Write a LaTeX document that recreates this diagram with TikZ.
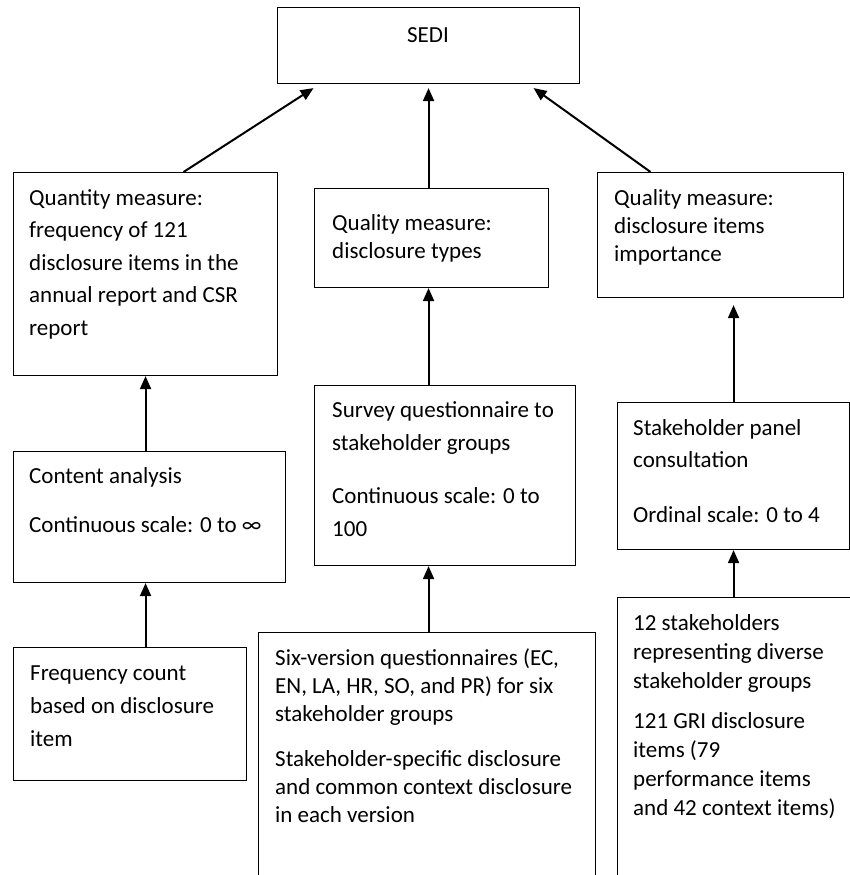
\documentclass[tikz,border=0pt]{standalone}
\usepackage{fontspec}
\setmainfont{Carlito}
\usetikzlibrary{arrows.meta}

\begin{document}
\begin{tikzpicture}[x=1pt,y=-1pt,
    box/.style={draw,line width=1.1pt,rectangle,inner sep=0pt,anchor=north west},
    txt/.style={anchor=north west,align=left,inner sep=0pt,
        font={\fontsize{23}{#1}\selectfont}},
    link/.style={line width=2pt,-{Triangle[length=13pt,width=11pt]}}]
\useasboundingbox (0,0) rectangle (850,875);
\clip (0,0) rectangle (850,875);

% boxes
\node[box,minimum width=302,minimum height=76] (sedi) at (277,7) {};
\node[box,minimum width=264,minimum height=203] (qnt) at (13,172) {};
\node[box,minimum width=234,minimum height=99] (qlt) at (314,188) {};
\node[box,minimum width=246,minimum height=125] (imp) at (597,172) {};
\node[box,minimum width=272,minimum height=131] (cnt) at (13,451) {};
\node[box,minimum width=261,minimum height=180] (srv) at (314,385) {};
\node[box,minimum width=232,minimum height=147] (pnl) at (617,402) {};
\node[box,minimum width=233,minimum height=133] (frq) at (13,647) {};
\node[box,minimum width=337,minimum height=300] (six) at (258,632) {};
\node[box,minimum width=240,minimum height=320] (stk) at (617,597) {};

% texts
\node[font={\fontsize{23}{28}\selectfont},anchor=base] (sedit) at (428,43) {SEDI};
\node[txt=32.5] (qntt) at ([shift={(16,14)}]qnt.north west)
    {\rule{0pt}{19pt}Quantity measure:\\frequency of 121\\disclosure items in the\\annual report and CSR\\report};
\node[txt=28] (qltt) at ([shift={(18,23)}]qlt.north west)
    {\rule{0pt}{19pt}Quality measure:\\disclosure types};
\node[txt=28] (impt) at ([shift={(17,14)}]imp.north west)
    {\rule{0pt}{19pt}Quality measure:\\disclosure items\\importance};
\node[txt=33] (cntt) at ([shift={(16,13)}]cnt.north west)
    {\rule{0pt}{19pt}Content analysis\\[16pt]Continuous scale: 0 to ∞};
\node[txt=33] (srvt) at ([shift={(18,13)}]srv.north west)
    {\rule{0pt}{19pt}Survey questionnaire to\\stakeholder groups\\[20pt]Continuous scale: 0 to\\100};
\node[txt=32] (pnlt) at ([shift={(16,14)}]pnl.north west)
    {\rule{0pt}{19pt}Stakeholder panel\\consultation\\[23pt]Ordinal scale: 0 to 4};
\node[txt=33] (frqt) at ([shift={(17,14)}]frq.north west)
    {\rule{0pt}{19pt}Frequency count\\based on disclosure\\item};
\node[txt=28] (sixt) at ([shift={(17,14)}]six.north west)
    {\rule{0pt}{19pt}Six-version questionnaires (EC,\\EN, LA, HR, SO, and PR) for six\\stakeholder groups\\[17pt]Stakeholder-specific disclosure\\and common context disclosure\\in each version};
\node[txt=29] (stkt) at ([shift={(16,14)}]stk.north west)
    {\rule{0pt}{19pt}12 stakeholders\\representing diverse\\stakeholder groups\\[11pt]121 GRI disclosure\\items (79\\performance items\\and 42 context items)};

% arrows
\draw[link] ([xshift=38pt]qnt.north) -- ([xshift=-115pt,yshift=-4pt]sedi.south);
\draw[link] (sedi.south |- qlt.north) -- ([yshift=-4pt]sedi.south);
\draw[link] ([xshift=-70pt]imp.north) -- ([xshift=105pt,yshift=-4pt]sedi.south);
\draw[link] (qnt.south |- cnt.north) -- (qnt.south);
\draw[link] (qnt.south |- frq.north) -- (qnt.south |- cnt.south);
\draw[link] (sedi.south |- srv.north) -- (sedi.south |- qlt.south);
\draw[link] (sedi.south |- six.north) -- (sedi.south |- srv.south);
\draw[link] (pnl.north) -- ([yshift=-7pt]pnl.north |- imp.south);
\draw[link] (pnl.south |- stk.north) -- (pnl.south);
\end{tikzpicture}
\end{document}
